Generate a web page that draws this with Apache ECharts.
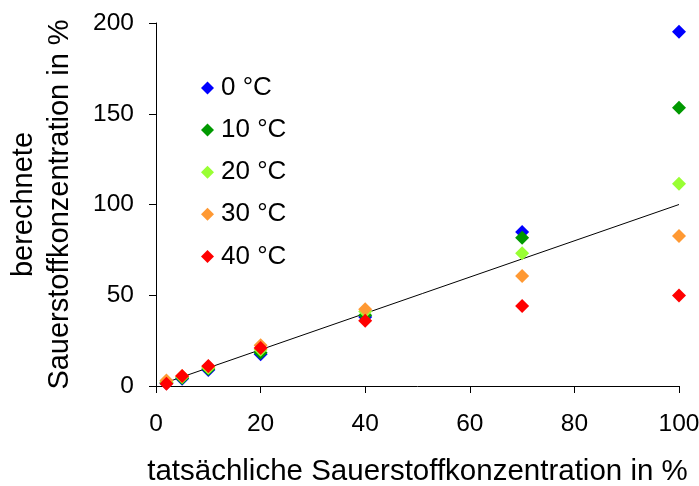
<!DOCTYPE html>
<html>
<head>
<meta charset="utf-8">
<script src="https://cdn.jsdelivr.net/npm/echarts@6/dist/echarts.min.js"></script>
<style>
  html, body { margin: 0; padding: 0; background: #fff; }
  #chart { width: 699px; height: 486px; }
</style>
</head>
<body>
<div id="chart"></div>
<script>
// Actual oxygen concentration (%) at which each measurement was taken
const actualO2 = [2, 5, 10, 20, 40, 70, 100];

// Calculated oxygen concentration (%) per temperature
const calc0C  = [1.5, 4.0, 8.8, 17.5, 38.0, 84.8, 195.2];
const calc10C = [1.8, 4.4, 9.3, 18.3, 39.0, 81.7, 153.3];
const calc20C = [2.2, 5.0, 10.0, 20.0, 41.0, 73.1, 111.5];
const calc30C = [3.0, 5.5, 10.8, 22.5, 42.3, 60.6, 82.6];
const calc40C = [1.3, 5.5, 11.0, 21.0, 36.0, 44.1, 49.8];

const seriesNames = ['0 °C', '10 °C', '20 °C', '30 °C', '40 °C'];
const seriesValues = [calc0C, calc10C, calc20C, calc30C, calc40C];
const seriesColors = ['#0000FF', '#009900', '#99FF33', '#FF9933', '#FF0000'];

// Reference line: calculated = actual
const identityLine = [[2, 2], [100, 100]];

const xTicks = { min: 0, max: 100, interval: 20 };
const yTicks = { min: 0, max: 200, interval: 50 };

const FONT = '"Liberation Sans", Arial, sans-serif';

const chart = echarts.init(document.getElementById('chart'), null, { renderer: 'canvas' });

const scatterSeries = seriesNames.map((name, i) => ({
  name: name,
  type: 'scatter',
  symbol: 'diamond',
  symbolSize: 14,
  itemStyle: { color: seriesColors[i], opacity: 1 },
  data: actualO2.map((x, j) => [x, seriesValues[i][j]]),
  z: 3 + i
}));

chart.setOption({
  animation: false,
  backgroundColor: '#ffffff',
  textStyle: { fontFamily: FONT, color: '#000' },
  grid: { left: 156, right: 20, top: 23, bottom: 100, containLabel: false, outerBoundsMode: 'none' },
  legend: {
    data: seriesNames.map((n, i) => ({ name: n, icon: 'diamond', itemStyle: { color: seriesColors[i] } })),
    orient: 'vertical',
    left: 196,
    top: 70,
    itemWidth: 13,
    itemHeight: 13,
    itemGap: 16.1,
    textStyle: { fontSize: 26, fontFamily: FONT, color: '#000', padding: [0, 0, 0, 2] },
    selectedMode: false
  },
  xAxis: {
    type: 'value',
    min: xTicks.min, max: xTicks.max, interval: xTicks.interval,
    name: 'tatsächliche Sauerstoffkonzentration in %',
    nameLocation: 'middle',
    nameGap: 71,
    nameTextStyle: { fontSize: 29.5, fontFamily: FONT, color: '#000' },
    axisLine: { onZero: false, lineStyle: { color: '#000', width: 1 } },
    axisTick: { show: true, length: 7, inside: false, lineStyle: { color: '#000' } },
    axisLabel: { fontSize: 24.5, fontFamily: FONT, color: '#000', margin: 26 },
    splitLine: { show: false }
  },
  yAxis: {
    type: 'value',
    min: yTicks.min, max: yTicks.max, interval: yTicks.interval,
    name: 'berechnete\nSauerstoffkonzentration in %',
    nameLocation: 'middle',
    nameGap: 78,
    nameTextStyle: { fontSize: 29, fontFamily: FONT, color: '#000', lineHeight: 36 },
    axisLine: { show: true, lineStyle: { color: '#000', width: 1 } },
    axisTick: { show: true, length: 7, inside: false, lineStyle: { color: '#000' } },
    axisLabel: { fontSize: 24.5, fontFamily: FONT, color: '#000', margin: 22 },
    splitLine: { show: false }
  },
  series: [
    {
      name: 'identity',
      type: 'line',
      data: identityLine,
      showSymbol: false,
      symbol: 'none',
      lineStyle: { color: '#000', width: 1 },
      z: 2,
      silent: true
    }
  ].concat(scatterSeries)
});
</script>
</body>
</html>
